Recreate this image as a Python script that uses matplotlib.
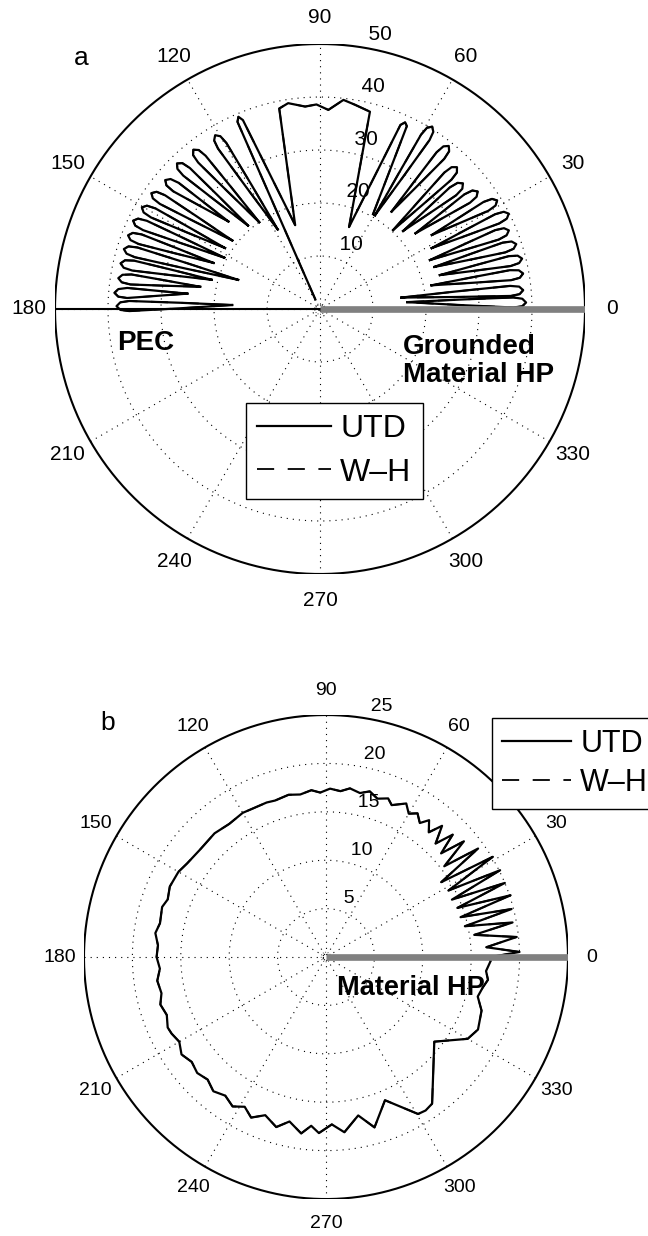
import numpy as np
import matplotlib.pyplot as plt

plt.rcParams['font.family'] = ['Liberation Sans', 'DejaVu Sans']

# ---- panel a (deg, radius): side lobes as tip + inner end, main beam as outline
right_tip_theta = [1.8, 5.3, 9.9, 14.0, 18.3, 22.6, 26.8, 31.5, 36.7, 41.3, 46.0, 51.7, 58.4]
right_tip_r = [38.9, 38.5, 38.9, 39.3, 39.0, 38.6, 39.9, 39.2, 37.1, 35.9, 37.2, 39.2, 40.4]
right_in_theta = [4.5, 8.0, 12.0, 15.8, 20.2, 24.0, 28.6, 33.5, 38.4, 43.2, 47.2, 53.7, 59.6]
right_in_r = [16.5, 15.5, 21.5, 23.5, 23.0, 22.7, 24.0, 25.3, 23.0, 21.5, 20.3, 22.8, 20.5]

beam_theta = [60.8, 64.6, 65.5, 66.4, 70.5, 75.8, 80.3, 83.6, 87.6, 91.0, 94.2, 98.8,
              101.5, 106.5, 112.2, 113.0, 113.8, 116.0]
beam_r = [20.5, 38.2, 38.7, 37.9, 16.4, 38.4, 39.1, 39.7, 37.6, 38.6, 38.3, 39.3,
          38.6, 16.5, 38.5, 39.4, 38.6, 2.0]

left_tip_theta = [121.1, 128.5, 134.5, 140.2, 145.5, 150.3, 154.7, 159.0, 163.0, 167.1,
                  171.3, 175.5, 179.2]
left_tip_r = [38.3, 38.4, 38.5, 38.0, 38.6, 38.7, 39.0, 38.8, 38.7, 38.6, 38.5, 38.9, 38.4]
left_in_theta = [118.0, 125.0, 130.8, 136.3, 142.0, 147.3, 151.8, 156.6, 160.4, 164.9,
                 169.5, 173.4, 177.4]
left_in_r = [17.0, 20.0, 20.8, 23.9, 21.0, 21.3, 20.5, 21.9, 16.4, 21.2, 23.0, 25.2, 16.6]
rticks_a = [10, 20, 30, 40, 50]

# ---- panel b: pattern of the material half plane
theta_b = [0, 1.5, 3.5, 6, 8.5, 10.5, 12.5, 14.5, 16.5, 18.5,
           20.5, 22.5, 24.5, 26.5, 28.5, 31, 33, 35.5, 37.5, 40,
           42, 44, 46, 48.5, 50.5, 53, 55, 57.5, 60, 62.4,
           66.6, 68.6, 72, 75.2, 78.3, 81.9, 85, 88.6, 92, 95,
           99, 103, 108, 111, 116, 120, 126, 132, 139.6, 146,
           150, 155.7, 160, 163, 168.5, 172, 176, 180, 184, 188,
           192.4, 196, 200, 204, 206.4, 210, 214, 218, 222, 226,
           230, 234, 238, 241.5, 245, 249, 253.7, 257.5, 262, 265,
           267.7, 272, 276, 281.5, 285.9, 292.4, 300.4, 303, 305.9, 322,
           330, 334.5, 341, 345.4, 349, 352, 355, 358.5, 360]
r_b = [17.0, 20.0, 16.6, 19.8, 15.5, 19.6, 14.7, 19.8, 14.5, 20.1,
       14.5, 20.0, 14.3, 20.1, 14.4, 20.1, 14.2, 19.3, 15.4, 18.6,
       16.0, 18.2, 16.3, 18.1, 16.7, 17.7, 16.9, 17.6, 17.1, 17.9,
       17.1, 17.6, 17.2, 17.7, 17.3, 17.6, 17.2, 17.4, 17.0, 17.3,
       17.0, 17.2, 17.0, 17.1, 17.1, 17.2, 17.0, 17.2, 17.1, 17.3,
       17.6, 17.7, 17.4, 17.7, 17.5, 17.8, 17.4, 17.5, 17.2, 17.6,
       17.4, 17.8, 17.5, 17.9, 17.8, 17.5, 18.0, 17.6, 17.9, 17.6,
       18.1, 17.7, 18.2, 17.6, 18.3, 17.5, 18.3, 17.4, 18.4, 17.5,
       18.2, 17.3, 18.2, 16.7, 18.3, 16.0, 18.8, 18.9, 18.7, 14.2,
       16.9, 17.4, 17.0, 16.2, 16.5, 16.9, 16.6, 17.0, 17.0]
rticks_b = [5, 10, 15, 20, 25]

angle_ticks = list(range(0, 360, 30))


def to_xy(theta, r):
    t = np.deg2rad(np.asarray(theta, dtype=float))
    r = np.asarray(r, dtype=float)
    return r * np.cos(t), r * np.sin(t)


def lobes_xy(tip_t, tip_r, in_t, in_r, half_w=0.95, back=2.4):
    # each lobe drawn as a narrow closed petal from its inner end out to its tip
    xs, ys = [], []
    for tt, rt, ti, ri in zip(tip_t, tip_r, in_t, in_r):
        T = np.array(to_xy(tt, rt))
        I = np.array(to_xy(ti, ri))
        L = np.linalg.norm(T - I)
        u = (T - I) / L
        n = np.array([-u[1], u[0]])
        pts = [I, I + 0.45 * L * u + 0.55 * half_w * n,
               T - back * u + half_w * n, T - 0.3 * back * u + 0.75 * half_w * n, T,
               T - 0.3 * back * u - 0.75 * half_w * n, T - back * u - half_w * n,
               I + 0.45 * L * u - 0.55 * half_w * n, I]
        for p in pts:
            xs.append(p[0])
            ys.append(p[1])
        xs.append(np.nan)
        ys.append(np.nan)
    return xs, ys


def polar_frame(ax, rticks, fs):
    rmax = rticks[-1]
    rinc = rticks[1] - rticks[0]
    dots = dict(color='k', lw=0.8, ls=(0, (1, 4.5)))
    t = np.linspace(0, 2 * np.pi, 400)
    for rr in rticks[:-1]:
        ax.plot(rr * np.cos(t), rr * np.sin(t), **dots)
    ax.plot(0.02 * rmax * np.cos(t), 0.02 * rmax * np.sin(t), color='k', lw=0.6, ls=(0, (1, 2)))
    for ang in angle_ticks[:6]:
        a = np.deg2rad(ang)
        ax.plot([-rmax * np.cos(a), rmax * np.cos(a)],
                [-rmax * np.sin(a), rmax * np.sin(a)], **dots)
    ax.plot(rmax * np.cos(t), rmax * np.sin(t), color='k', lw=1.5)
    for ang in angle_ticks:
        a = np.deg2rad(ang)
        ax.text(1.1 * rmax * np.cos(a), 1.1 * rmax * np.sin(a), str(ang),
                ha='center', va='center', fontsize=fs, clip_on=False)
    c82, s82 = np.cos(np.deg2rad(82)), np.sin(np.deg2rad(82))
    for rr in rticks:
        ax.text((rr + rinc / 20) * c82, (rr + rinc / 20) * s82, '  ' + str(rr),
                ha='left', va='bottom', fontsize=fs, clip_on=False)
    ax.set_xlim(-rmax, rmax)
    ax.set_ylim(-rmax, rmax)
    ax.axis('off')


fig = plt.figure(figsize=(6.48, 12.36), dpi=100)

# ---- panel a
ax1 = fig.add_axes([0.0849, 0.5356, 0.8179, 0.4288])
polar_frame(ax1, rticks_a, 15)
rx, ry = lobes_xy(right_tip_theta, right_tip_r, right_in_theta, right_in_r)
bx, by = to_xy(beam_theta, beam_r)
lx, ly = lobes_xy(left_tip_theta, left_tip_r, left_in_theta, left_in_r)
xa = np.concatenate([rx, bx, [np.nan], lx])
ya = np.concatenate([ry, by, [np.nan], ly])
ax1.plot([0, -50], [0, 0], color='k', lw=1.5)
l1, = ax1.plot(xa, ya, color='k', lw=1.6, solid_joinstyle='round')
l2, = ax1.plot(xa, ya, color='k', lw=1.3, ls=(0, (9.5, 7.5)))
ax1.plot([0, 50], [0, 0], color='#808080', lw=4.8, solid_capstyle='butt')
ax1.text(-32.9, -6.5, 'PEC', fontsize=20, fontweight='bold', ha='center', va='center')
ax1.text(15.7, -9.8, 'Grounded\nMaterial HP', fontsize=20, fontweight='bold',
         ha='left', va='center', linespacing=1.1)
leg = fig.legend([l1, l2], ['UTD', 'W\u2013H'], loc='upper left',
                 bbox_to_anchor=(246 / 648, 1 - 403 / 1236), fontsize=23,
                 fancybox=False, edgecolor='k', framealpha=1, handlelength=2.3,
                 handletextpad=0.3, borderpad=0.35, labelspacing=0.42, borderaxespad=0)
leg.get_frame().set_linewidth(1.0)
fig.text(81 / 648, 1 - 58 / 1236, 'a', fontsize=19, ha='center', va='center')

# ---- panel b
ax2 = fig.add_axes([0.1296, 0.0299, 0.7469, 0.3916])
polar_frame(ax2, rticks_b, 14)
xb, yb = to_xy(theta_b, r_b)
m1, = ax2.plot(xb, yb, color='k', lw=1.6, solid_joinstyle='round')
m2, = ax2.plot(xb, yb, color='k', lw=1.3, ls=(0, (9.5, 7.5)))
ax2.plot([0, 25], [0, 0], color='#808080', lw=4.8, solid_capstyle='butt')
ax2.text(8.8, -3.2, 'Material HP', fontsize=19.5, fontweight='bold', ha='center', va='center')
leg2 = fig.legend([m1, m2], ['UTD', 'W\u2013H'], loc='upper left',
                  bbox_to_anchor=(491.6 / 648, 1 - 718 / 1236), fontsize=22,
                  fancybox=False, edgecolor='k', framealpha=1, handlelength=2.25,
                  handletextpad=0.3, borderpad=0.35, labelspacing=0.3, borderaxespad=0)
leg2.get_frame().set_linewidth(1.0)
fig.text(108 / 648, 1 - 723 / 1236, 'b', fontsize=19, ha='center', va='center')

fig.savefig('out.png', dpi=100)
